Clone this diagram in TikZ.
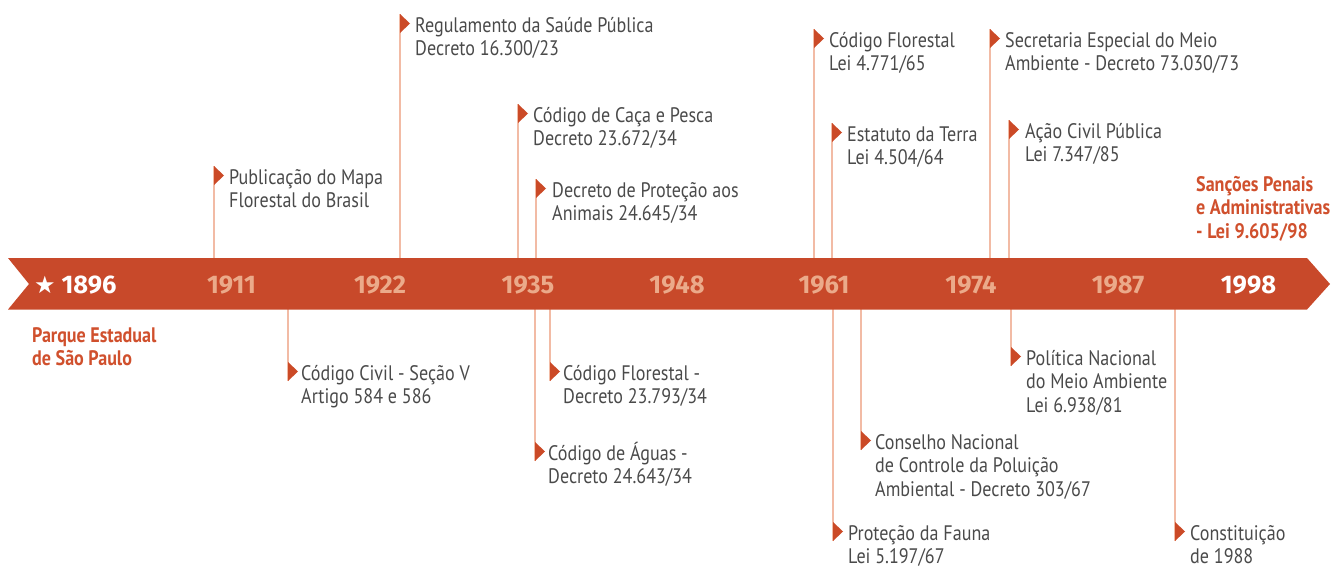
\documentclass[tikz,border=0pt]{standalone}
\usepackage{fontspec}
\setmainfont{PT Sans}[FakeStretch=0.86]
\newfontfamily\yearfont{Fira Sans}
\newfontfamily\symfont{DejaVu Sans}
\definecolor{bandc}{HTML}{C8492A}
\definecolor{yearc}{HTML}{EBAA8A}
\definecolor{linec}{HTML}{F2BBA5}
\definecolor{markc}{HTML}{CB4A27}
\definecolor{txtc}{HTML}{4A4A4A}
\definecolor{orc}{HTML}{D0502D}
\newcommand\ml[1]{\begin{tabular}[t]{@{}l@{}}#1\end{tabular}}
\tikzset{
  evline/.style={draw=linec, line width=1.6pt},
  marker/.style={fill=markc},
  evtext/.style={anchor=base west, inner sep=0pt, text=txtc,
    font=\fontsize{21}{23.5}\selectfont},
  hltext/.style={anchor=base west, inner sep=0pt, text=orc,
    font=\fontsize{21}{23.5}\selectfont\bfseries},
  year/.style={inner sep=0pt, text=yearc, font=\yearfont\bfseries\fontsize{25.5}{25.5}\selectfont},
  yearw/.style={year, text=white},
}
% #1 name, #2 line x, #3 marker top y, #4 text offset, #5 text
\newcommand\EvUp[5]{%
  \coordinate (#1m) at (#2,#3);
  \coordinate (#1b) at (#2,258);
  \draw[evline] (#1b) -- (#1m);
  \fill[marker] (#1m) -- ++(10,9.5) -- ++(-10,9.5) -- cycle;
  \node[evtext] (#1) at (#2+#4,#3+18) {\ml{#5}};
}
\newcommand\EvDn[5]{%
  \coordinate (#1m) at (#2,#3);
  \coordinate (#1e) at (#2,#3+19);
  \coordinate (#1b) at (#2,309);
  \draw[evline] (#1b) -- (#1e);
  \fill[marker] (#1m) -- ++(10,9.5) -- ++(-10,9.5) -- cycle;
  \node[evtext] (#1) at (#2+#4,#3+18) {\ml{#5}};
}
\begin{document}
\begin{tikzpicture}[x=1pt,y=-1pt]
\useasboundingbox (0,0) rectangle (1335,568);
% events above
\EvUp{mapa}{214}{166}{15}{Publicação do Mapa\\Florestal do Brasil}
\EvUp{saude}{400}{14}{15}{Regulamento da Saúde Pública\\Decreto 16.300/23}
\EvUp{caca}{518}{104}{15}{Código de Caça e Pesca\\Decreto 23.672/34}
\EvUp{animais}{536}{179}{16}{Decreto de Proteção aos\\Animais 24.645/34}
\EvUp{flor65}{814}{29}{15}{Código Florestal\\Lei 4.771/65}
\EvUp{terra}{832}{123}{15}{Estatuto da Terra\\Lei 4.504/64}
\EvUp{sema}{990}{29}{15}{Secretaria Especial do Meio\\Ambiente - Decreto 73.030/73}
\EvUp{acao}{1009}{120}{16}{Ação Civil Pública\\Lei 7.347/85}
% events below
\EvDn{civil}{288}{362}{13}{Código Civil - Seção V\\Artigo 584 e 586}
\EvDn{flor34}{550}{362}{13}{Código Florestal -\\Decreto 23.793/34}
\EvDn{aguas}{535}{442}{13}{Código de Águas -\\Decreto 24.643/34}
\EvDn{fauna}{833}{522}{15}{Proteção da Fauna\\Lei 5.197/67}
\EvDn{conama}{861}{431}{14}{Conselho Nacional\\de Controle da Poluição\\Ambiental - Decreto 303/67}
\EvDn{pnma}{1011}{347}{15}{Política Nacional\\do Meio Ambiente\\Lei 6.938/81}
\EvDn{const}{1175}{522}{15}{Constituição\\de 1988}
% band
\fill[bandc] (8,258) -- (1307,258) -- (1330,284) -- (1307,309.5) -- (8,309.5) -- (29,284) -- cycle;
% highlighted texts
\node[hltext] (parque) at (32,342) {\ml{Parque Estadual\\de São Paulo}};
\node[hltext] (lei9605) at (1196,191) {\ml{Sanções Penais\\e Administrativas\\- Lei 9.605/98}};
% years
\node[text=white, inner sep=0pt, font=\symfont\fontsize{24}{24}\selectfont] (star) at (45,285) {★};
\node[yearw] (y1896) at (89,285) {1896};
\node[year] (y1911) at (231.5,285) {1911};
\node[year] (y1922) at (380,285) {1922};
\node[year] (y1935) at (528,285) {1935};
\node[year] (y1948) at (677,285) {1948};
\node[year] (y1961) at (824,285) {1961};
\node[year] (y1974) at (971,285) {1974};
\node[year] (y1987) at (1118,285) {1987};
\node[yearw] (y1998) at (1248.5,285) {1998};
\end{tikzpicture}
\end{document}
